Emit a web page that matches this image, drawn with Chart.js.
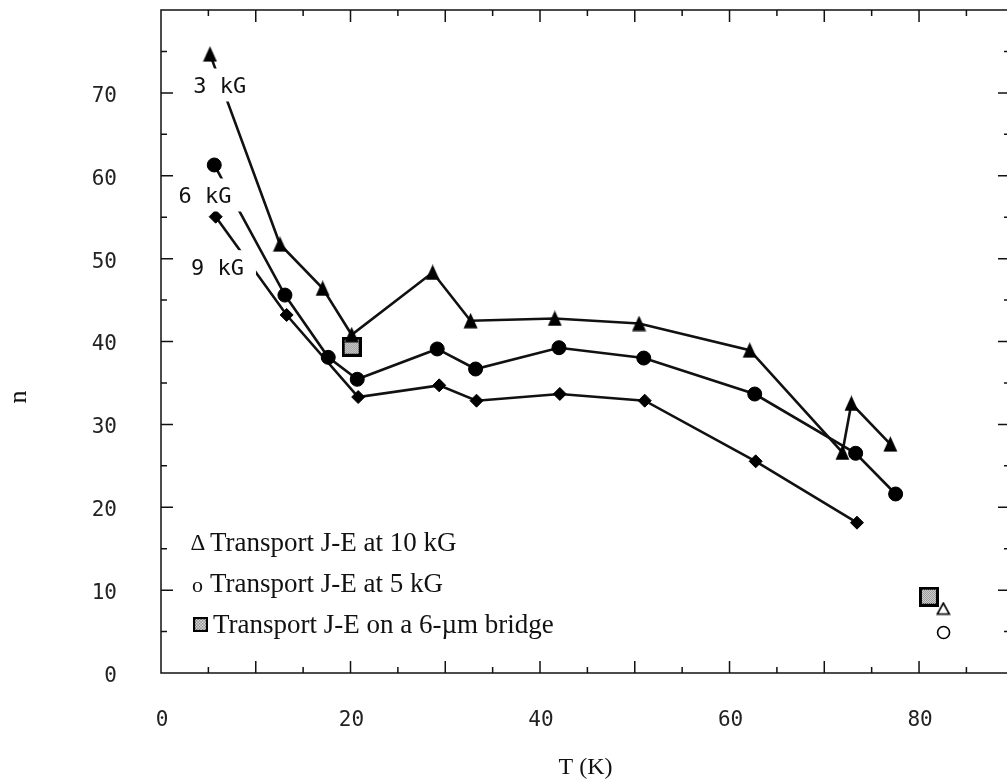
<!DOCTYPE html>
<html>
<head>
<meta charset="utf-8">
<title>n vs T</title>
<script src="https://cdn.jsdelivr.net/npm/chart.js@4.4.0/dist/chart.umd.min.js"></script>
<style>
  html, body { margin: 0; padding: 0; background: #fff; overflow: hidden; }
  #chart { display: block; }
</style>
</head>
<body>
<canvas id="chart" width="1010" height="780"></canvas>
<script>
// values: T in K, n dimensionless
const temp3kG = [5.17, 12.55, 17.06, 20.12, 28.67, 32.67, 41.56, 50.45, 62.13, 71.91, 72.86, 76.97];
const n3kG    = [74.67, 51.74, 46.41, 40.81, 48.33, 42.5, 42.78, 42.17, 38.95, 26.61, 32.52, 27.61];

const temp6kG = [5.62, 13.08, 17.65, 20.71, 29.15, 33.2, 42.0, 50.95, 62.66, 73.31, 77.53];
const n6kG    = [61.3, 45.6, 38.09, 35.44, 39.1, 36.68, 39.25, 38.0, 33.66, 26.51, 21.6];

const temp9kG = [5.77, 13.26, 20.81, 29.36, 33.3, 42.09, 51.05, 62.76, 73.45];
const n9kG    = [55.06, 43.2, 33.3, 34.71, 32.86, 33.67, 32.86, 25.54, 18.14];

const tempBridge = [20.12, 81.04];
const nBridge    = [39.37, 9.21];
const temp10kG = [82.56];
const n10kG    = [7.78];
const temp5kG  = [82.59];
const n5kG     = [4.89];

const xTickLabels = [0, 20, 40, 60, 80];
const yTickLabels = [0, 10, 20, 30, 40, 50, 60, 70];

const fieldLabels = ['3 kG', '6 kG', '9 kG'];
const fieldLabelT = [6.19, 4.64, 5.96];
const fieldLabelN = [70.95, 57.68, 49.03];

const legendTexts = ['Transport J-E at 10 kG', 'Transport J-E at 5 kG', 'Transport J-E on a 6-\u00b5m bridge'];

function pts(xs, ys) {
    return xs.map((x, i) => ({ x: x, y: ys[i] }));
}

function makeCanvas(w, h, draw) {
    const c = document.createElement('canvas');
    c.width = w;
    c.height = h;
    draw(c.getContext('2d'));
    return c;
}

const solidTriangle = makeCanvas(15, 16, (ctx) => {
    ctx.fillStyle = '#000';
    ctx.beginPath();
    ctx.moveTo(7.5, 0);
    ctx.lineTo(14.5, 15.5);
    ctx.lineTo(0.5, 15.5);
    ctx.closePath();
    ctx.fill();
});

const openTriangle = makeCanvas(15, 14, (ctx) => {
    ctx.fillStyle = '#fff';
    ctx.strokeStyle = '#000';
    ctx.lineWidth = 1.6;
    ctx.beginPath();
    ctx.moveTo(7.5, 1.5);
    ctx.lineTo(13.5, 12.5);
    ctx.lineTo(1.5, 12.5);
    ctx.closePath();
    ctx.fill();
    ctx.stroke();
});

const bridgeSquare = makeCanvas(20, 20, (ctx) => {
    ctx.fillStyle = '#000';
    ctx.fillRect(0, 0, 20, 20);
    ctx.fillStyle = '#fff';
    ctx.fillRect(3, 3, 14, 14);
    ctx.fillStyle = '#6a6a6a';
    for (let j = 3; j < 17; j++) {
        for (let i = 3; i < 17; i++) {
            if ((i + j) % 2 === 0) ctx.fillRect(i, j, 1, 1);
        }
    }
});

const lineStyle = { showLine: true, borderColor: '#111', borderWidth: 2.6, fill: false, tension: 0 };

// chart.js adds tick padding to the axis margins, we want the frame at fixed spots
function noMargins(s) {
    s.paddingTop = 0;
    s.paddingBottom = 0;
    s.paddingLeft = 0;
    s.paddingRight = 0;
}

const decorations = {
    id: 'decorations',
    afterDatasetsDraw(chart) {
        const { ctx, scales: { x, y } } = chart;
        ctx.save();
        ctx.font = '22px "DejaVu Sans Mono"';
        ctx.textAlign = 'center';
        ctx.textBaseline = 'alphabetic';
        fieldLabels.forEach((txt, i) => {
            const cx = x.getPixelForValue(fieldLabelT[i]);
            const cy = y.getPixelForValue(fieldLabelN[i]);
            const w = ctx.measureText(txt).width;
            ctx.fillStyle = '#fff';
            ctx.fillRect(cx - w / 2 - 12, cy - 16.5, w + 24, 33);
            ctx.fillStyle = '#111';
            ctx.fillText(txt, cx, cy + 8);
        });
        ctx.restore();
    },
    afterDraw(chart) {
        const { ctx, chartArea: { left, right, top, bottom }, scales: { x, y } } = chart;
        ctx.save();
        ctx.strokeStyle = '#111';
        ctx.lineWidth = 1.5;
        ctx.strokeRect(left, top, right - left, bottom - top);

        ctx.beginPath();
        for (let v = 5; v < 90; v += 5) {
            const px = x.getPixelForValue(v);
            const len = v % 10 === 0 ? 12 : 6;
            ctx.moveTo(px, bottom); ctx.lineTo(px, bottom - len);
            ctx.moveTo(px, top); ctx.lineTo(px, top + len);
        }
        for (let v = 5; v < 80; v += 5) {
            const py = y.getPixelForValue(v);
            const len = v % 10 === 0 ? 12 : 6;
            ctx.moveTo(left, py); ctx.lineTo(left + len, py);
            ctx.moveTo(right, py); ctx.lineTo(right - len, py);
        }
        ctx.stroke();

        // legend inside the plot
        const lx = left + 32;
        const rows = [551, 592, 633];
        ctx.fillStyle = '#111';
        ctx.textBaseline = 'alphabetic';
        ctx.textAlign = 'center';
        ctx.font = '23px "Liberation Serif"';
        ctx.fillText('\u0394', lx + 5, rows[0] - 1);
        ctx.font = '22px "Liberation Serif"';
        ctx.fillText('o', lx + 4.5, rows[1]);
        ctx.drawImage(bridgeSquare, lx, rows[2] - 16, 15, 15);
        ctx.textAlign = 'left';
        ctx.font = '27px "Liberation Serif"';
        ctx.fillText(legendTexts[0], lx + 17, rows[0]);
        ctx.fillText(legendTexts[1], lx + 17, rows[1]);
        ctx.fillText(legendTexts[2], lx + 20, rows[2]);

        // y axis title sits below the middle in the original
        ctx.translate(19, 397);
        ctx.rotate(-Math.PI / 2);
        ctx.textAlign = 'center';
        ctx.textBaseline = 'middle';
        ctx.font = '26px "Liberation Serif"';
        ctx.fillText('n', 0, 0);
        ctx.restore();
    }
};

const tickFont = { family: 'DejaVu Sans Mono', size: 21 };

new Chart(document.getElementById('chart').getContext('2d'), {
    type: 'scatter',
    data: {
        datasets: [
            { label: '3 kG', data: pts(temp3kG, n3kG), ...lineStyle, pointStyle: solidTriangle, pointRadius: 8, order: 1 },
            { label: '6 kG', data: pts(temp6kG, n6kG), ...lineStyle, pointStyle: 'circle', pointRadius: 7,
              pointBackgroundColor: '#000', pointBorderColor: '#000', pointBorderWidth: 1, order: 2 },
            { label: '9 kG', data: pts(temp9kG, n9kG), ...lineStyle, pointStyle: 'rectRot', pointRadius: 6.5,
              pointBackgroundColor: '#000', pointBorderColor: '#000', pointBorderWidth: 1, order: 3 },
            { label: 'bridge', data: pts(tempBridge, nBridge), showLine: false, pointStyle: bridgeSquare, pointRadius: 10, order: 6 },
            { label: '10 kG', data: pts(temp10kG, n10kG), showLine: false, pointStyle: openTriangle, pointRadius: 7, order: 4 },
            { label: '5 kG', data: pts(temp5kG, n5kG), showLine: false, pointStyle: 'circle', pointRadius: 6,
              pointBackgroundColor: '#fff', pointBorderColor: '#000', pointBorderWidth: 1.6, order: 5 }
        ]
    },
    options: {
        responsive: false,
        animation: false,
        devicePixelRatio: 1,
        layout: { autoPadding: false, padding: { top: 10, left: 0, right: 0, bottom: 0 } },
        plugins: {
            legend: { display: false },
            tooltip: { enabled: false }
        },
        scales: {
            x: {
                type: 'linear',
                min: 0,
                max: 89.6,
                grid: { display: false, drawTicks: false },
                border: { display: false },
                afterBuildTicks: (s) => { s.ticks = xTickLabels.map((v) => ({ value: v })); },
                afterFit: (s) => { s.height = 107; noMargins(s); },
                ticks: { font: tickFont, color: '#222', padding: 35, labelOffset: 1, maxRotation: 0, autoSkip: false },
                title: { display: true, text: 'T (K)', color: '#111',
                         font: { family: 'Liberation Serif', size: 24, lineHeight: 1 }, padding: { top: 0, bottom: 0 } }
            },
            y: {
                type: 'linear',
                min: 0,
                max: 80,
                grid: { display: false, drawTicks: false },
                border: { display: false },
                afterBuildTicks: (s) => { s.ticks = yTickLabels.map((v) => ({ value: v })); },
                afterFit: (s) => { s.width = 161; noMargins(s); },
                ticks: { font: tickFont, color: '#222', padding: 44, labelOffset: 3.5, autoSkip: false }
            }
        }
    },
    plugins: [decorations]
});
</script>
</body>
</html>
